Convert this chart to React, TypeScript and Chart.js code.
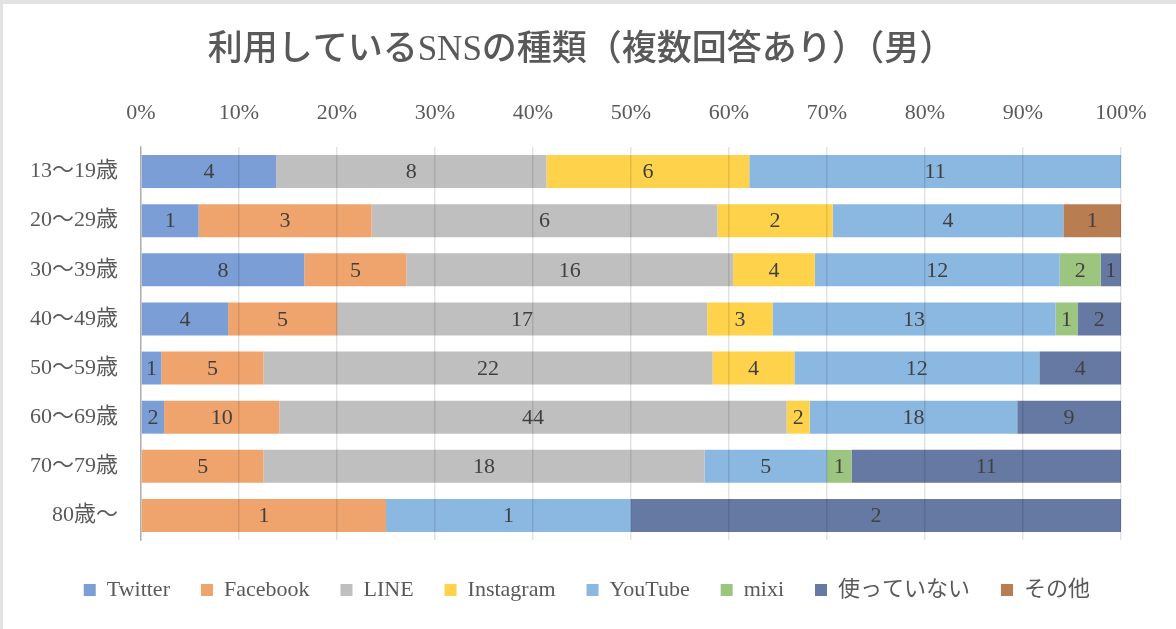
import React, { useEffect, useRef } from "react";
import { Chart, registerables } from "chart.js";

Chart.register(...registerables);

const categories = ["13～19歳", "20～29歳", "30～39歳", "40～49歳", "50～59歳", "60～69歳", "70～79歳", "80歳～"];
const seriesNames = ["Twitter", "Facebook", "LINE", "Instagram", "YouTube", "mixi", "使っていない", "その他"];
const twitter = [4, 1, 8, 4, 1, 2, 0, 0];
const facebook = [0, 3, 5, 5, 5, 10, 5, 1];
const line = [8, 6, 16, 17, 22, 44, 18, 0];
const instagram = [6, 2, 4, 3, 4, 2, 0, 0];
const youtube = [11, 4, 12, 13, 12, 18, 5, 1];
const mixi = [0, 0, 2, 1, 0, 0, 1, 0];
const notUsing = [0, 0, 1, 2, 4, 9, 11, 2];
const other = [0, 1, 0, 0, 0, 0, 0, 0];
const seriesValues = [twitter, facebook, line, instagram, youtube, mixi, notUsing, other];
const seriesColors = ["#7B9ED6", "#F0A46D", "#BFBFBF", "#FFD24C", "#8BB8E1", "#9CC67F", "#6679A2", "#B97D52"];
const xTicks = [0, 10, 20, 30, 40, 50, 60, 70, 80, 90, 100];
const titleText = "利用しているSNSの種類（複数回答あり）（男）";

const FONT = '"Liberation Serif", "Noto Sans CJK JP", serif';
const PLOT_LEFT = 141;
const PLOT_TOP = 147;

export default function App() {
  const ref = useRef<HTMLCanvasElement | null>(null);

  useEffect(() => {
    document.body.style.margin = "0";
    const totals = categories.map((_, i) => seriesValues.reduce((s, arr) => s + arr[i], 0));
    const datasets = seriesNames.map((name, k) => ({
      label: name,
      data: seriesValues[k].map((v, i) => (v / totals[i]) * 100),
      counts: seriesValues[k],
      backgroundColor: seriesColors[k],
      borderWidth: 0,
      categoryPercentage: 1,
      barPercentage: 0.67,
    }));

    const labelPlugin = {
      id: "segLabels",
      afterDraw(chart: any) {
        const ctx = chart.ctx;
        ctx.save();
        ctx.font = `22px ${FONT}`;
        ctx.fillStyle = "#404040";
        ctx.textAlign = "center";
        ctx.textBaseline = "middle";
        chart.data.datasets.forEach((ds: any, di: number) => {
          const meta = chart.getDatasetMeta(di);
          meta.data.forEach((el: any, i: number) => {
            const c = ds.counts[i];
            if (!c) return;
            const p = el.getCenterPoint();
            ctx.fillText(String(c), p.x, p.y + 1);
          });
        });
        // chart title
        ctx.font = `500 35px ${FONT}`;
        ctx.fillStyle = "#595959";
        ctx.fillText(titleText, 581, 51);
        ctx.restore();
      },
    };

    const chart = new Chart(ref.current as HTMLCanvasElement, {
      type: "bar",
      data: { labels: categories, datasets: datasets as any },
      options: {
        animation: false,
        responsive: false,
        indexAxis: "y",
        layout: { padding: { left: 0, right: 55, top: 0, bottom: 18 } },
        scales: {
          x: {
            position: "top",
            stacked: true,
            min: 0,
            max: 100,
            afterBuildTicks: (scale: any) => {
              scale.ticks = xTicks.map((v) => ({ value: v }));
            },
            afterFit: (scale: any) => {
              scale.height = PLOT_TOP;
            },
            ticks: {
              callback: (v: any) => v + "%",
              font: { size: 22, family: FONT },
              color: "#595959",
              padding: 21,
              maxRotation: 0,
            },
            grid: { color: "rgba(0,0,0,0.11)", lineWidth: 1.5, drawTicks: false, z: 1 },
            border: { display: false },
          },
          y: {
            stacked: true,
            afterFit: (scale: any) => {
              scale.width = PLOT_LEFT;
            },
            ticks: {
              font: { size: 22, family: FONT },
              color: "#595959",
              padding: 23,
            },
            grid: { display: false, drawTicks: false },
            border: { display: true, color: "#c4c4c4", width: 1.5 },
          },
        },
        plugins: {
          title: { display: false },
          legend: {
            position: "bottom",
            align: "end",
            title: { display: true, text: " ", font: { size: 1 }, padding: { top: 3.4, bottom: 3.4 } },
            labels: {
              boxWidth: 12,
              boxHeight: 12,
              padding: 31,
              font: { size: 22, family: FONT },
              color: "#595959",
            },
          },
          tooltip: { enabled: false },
        },
      },
      plugins: [labelPlugin],
    });
    return () => chart.destroy();
  }, []);

  return (
    <div style={{ position: "relative", width: 1176, height: 629, background: "#fff" }}>
      <canvas ref={ref} width={1176} height={629} style={{ display: "block" }} />
      <div
        style={{
          position: "absolute",
          left: 0,
          top: 0,
          width: 1176,
          height: 629,
          boxSizing: "border-box",
          borderTop: "4px solid #e2e2e2",
          borderLeft: "3px solid #e2e2e2",
          pointerEvents: "none",
        }}
      />
    </div>
  );
}
